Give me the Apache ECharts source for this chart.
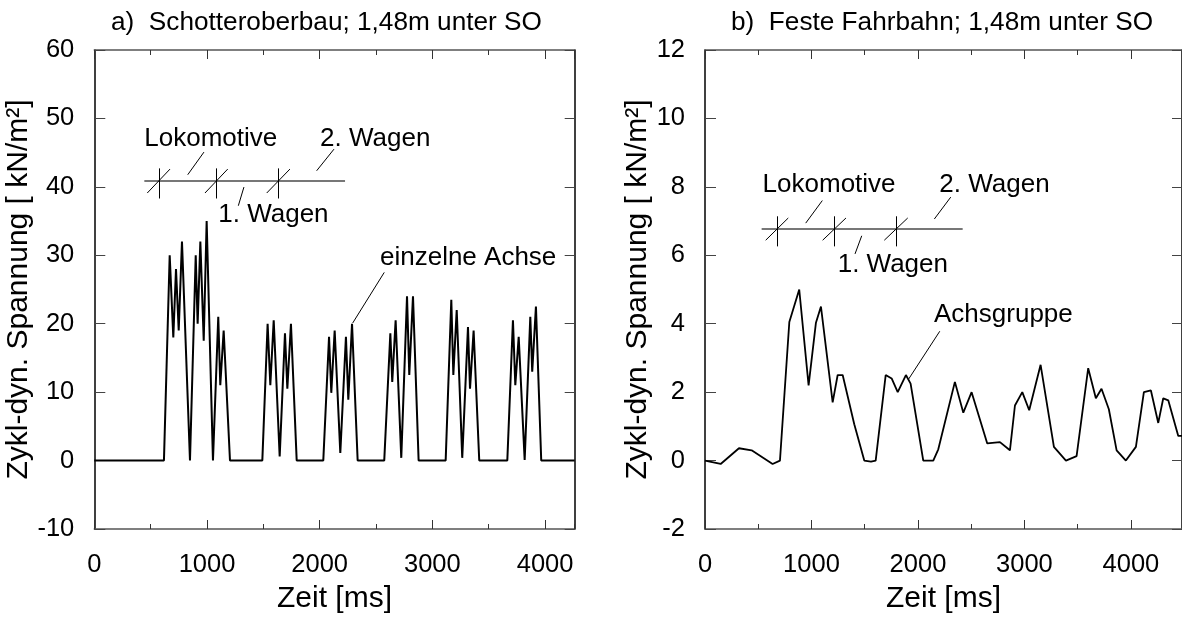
<!DOCTYPE html>
<html><head><meta charset="utf-8">
<script src="https://cdn.jsdelivr.net/npm/echarts@6/dist/echarts.min.js"></script>
<style>html,body{margin:0;padding:0;background:#fff}#c{width:1182px;height:619px}</style>
</head><body><div id="c"></div><script>
// ---- data ----
const titleA = 'a)  Schotteroberbau; 1,48m unter SO';
const titleB = 'b)  Feste Fahrbahn; 1,48m unter SO';
const xName = 'Zeit [ms]';
const yName = 'Zykl-dyn. Spannung [ kN/m²]';

const timesA = [0, 618, 669, 701, 725, 749, 778, 849, 900, 917, 941, 971, 997, 1053, 1100, 1118, 1148, 1204, 1491, 1538,
  1562, 1592, 1645, 1692, 1713, 1745, 1796, 2032, 2083, 2103, 2133, 2183, 2233, 2254, 2287, 2337, 2573, 2627, 2644, 2674,
  2724, 2775, 2795, 2828, 2878, 3118, 3168, 3186, 3216, 3265, 3316, 3334, 3366, 3416, 3665, 3715, 3736, 3766, 3819, 3869,
  3886, 3919, 3966, 4263];
const stressA = [0, 0, 30, 18, 28, 19, 32, 0, 30, 20, 32, 17.5, 35, 0, 21, 11, 19, 0, 0, 20,
  11, 20.5, 0.6, 18.6, 10.5, 20, 0, 0, 18.1, 9.9, 19, 1.1, 18.1, 8.9, 20, 0, 0, 18.6, 11.5, 20.5,
  0.4, 24, 12.5, 24, 0, 0, 23.5, 12.5, 22, 0.4, 19.5, 10.5, 19, 0, 0, 20.5, 11, 18.1, 0.1, 21,
  13, 22.5, 0, 0];

const timesB = [0, 147, 319, 438, 635, 704, 792, 885, 973, 1042, 1089, 1199, 1246, 1293, 1402, 1496, 1559, 1603, 1697, 1753,
  1810, 1887, 1931, 2050, 2144, 2191, 2347, 2426, 2504, 2651, 2770, 2864, 2911, 2980, 3045, 3152, 3277, 3390, 3490, 3599,
  3671, 3724, 3793, 3866, 3953, 4047, 4122, 4188, 4257, 4304, 4351, 4445, 4480];
const stressB = [0, -0.1, 0.36, 0.3, -0.1, 0, 4.05, 5.0, 2.2, 4.03, 4.5, 1.7, 2.5, 2.5, 1.06, 0, -0.03, 0, 2.5, 2.4,
  2.0, 2.5, 2.25, 0, 0, 0.33, 2.3, 1.4, 2.0, 0.5, 0.54, 0.3, 1.61, 2.0, 1.47, 2.8, 0.4, 0, 0.13, 2.7,
  1.82, 2.1, 1.5, 0.3, 0, 0.4, 2.0, 2.05, 1.1, 1.82, 1.76, 0.72, 0.72];

// axis ranges
const xMaxA = 4263, xMaxB = 4480;
const yMinA = -10, yMaxA = 60, yStepA = 10;
const yMinB = -2, yMaxB = 12, yStepB = 2;

// annotations (data units): train schematic, leaders, labels
const trainLineA = [[444, 40.93], [2225, 40.93]];
const trainTicksA = [[577, 38.3, 42.7], [1080, 38.3, 42.7], [1633, 38.3, 42.7]];
const trainSlashesA = [[[470, 39.1], [672, 42.6]], [[982, 39.1], [1184, 42.6]], [[1530, 39.1], [1736, 42.6]]];
const leadersA = [[[829, 41.77], [973, 45.08]], [[1328, 39.97], [1278, 37.24]], [[1973, 42.35], [2127, 45.51]], [[2293, 20.1], [2573, 27.5]]];
const labelsA = [[444, 47.0, 'Lokomotive'], [2003, 47.0, '2. Wagen'], [1100, 35.93, '1. Wagen'], [2535, 29.6, 'einzelne Achse']];

const trainLineB = [[532, 6.78], [2420, 6.78]];
const trainTicksB = [[683, 6.26, 7.14], [1215, 6.26, 7.14], [1794, 6.26, 7.14]];
const trainSlashesB = [[[570, 6.44], [782, 7.09]], [[1105, 6.44], [1324, 7.09]], [[1684, 6.44], [1904, 7.09]]];
const leadersB = [[[946, 6.94], [1102, 7.60]], [[1409, 6.04], [1472, 6.57]], [[2154, 7.06], [2308, 7.70]], [[1910, 2.37], [2205, 3.78]]];
const labelsB = [[541, 8.06, 'Lokomotive'], [2201, 8.06, '2. Wagen'], [1246, 5.73, '1. Wagen'], [2151, 4.27, 'Achsgruppe']];

// ---- chart ----
const FONT = '"Liberation Sans", Arial, sans-serif';
const FS = 25.5;
const NAME_FS = 30;
const TITLE_FS = 26.2;
const chart = echarts.init(document.getElementById('c'), null, {renderer: 'canvas'});
const plain = v => String(v);

function xAxesFor(gi, max) {
  const base = {gridIndex: gi, type: 'value', min: 0, max: max, splitLine: {show: false}};
  return [
    Object.assign({}, base, {position: 'bottom', interval: 1000,
      axisLine: {show: true, onZero: false, lineStyle: {color: '#555', width: 1.5}},
      axisTick: {show: true, inside: true, length: 9, lineStyle: {color: '#333', width: 1}},
      axisLabel: {show: true, color: '#000', fontSize: FS, fontFamily: FONT, margin: 23, showMaxLabel: false, formatter: plain},
      name: xName, nameLocation: 'middle', nameGap: 55,
      nameTextStyle: {color: '#000', fontSize: NAME_FS, fontFamily: FONT}}),
    Object.assign({}, base, {position: 'bottom', interval: 500,
      axisLine: {show: false, onZero: false},
      axisTick: {show: true, inside: true, length: 5, lineStyle: {color: '#333', width: 1}},
      axisLabel: {show: false}}),
    Object.assign({}, base, {position: 'top', interval: 1000,
      axisLine: {show: true, onZero: false, lineStyle: {color: '#555', width: 1.5}},
      axisTick: {show: true, inside: true, length: 9, lineStyle: {color: '#333', width: 1}},
      axisLabel: {show: false}}),
    Object.assign({}, base, {position: 'top', interval: 500,
      axisLine: {show: false, onZero: false},
      axisTick: {show: true, inside: true, length: 5, lineStyle: {color: '#333', width: 1}},
      axisLabel: {show: false}})
  ];
}
function yAxesFor(gi, min, max, step, gap) {
  const base = {gridIndex: gi, type: 'value', min: min, max: max, interval: step, splitLine: {show: false}};
  return [
    Object.assign({}, base, {position: 'left',
      axisLine: {show: true, onZero: false, lineStyle: {color: '#000', width: 1.5}},
      axisTick: {show: true, inside: true, length: 11, lineStyle: {color: '#444', width: 1}},
      axisLabel: {show: true, color: '#000', fontSize: FS, fontFamily: FONT, margin: 20, formatter: plain},
      name: yName, nameLocation: 'middle', nameGap: gap,
      nameTextStyle: {color: '#000', fontSize: NAME_FS, fontFamily: FONT}}),
    Object.assign({}, base, {position: 'right',
      axisLine: {show: true, onZero: false, lineStyle: {color: '#000', width: 1.5}},
      axisTick: {show: true, inside: true, length: 10, lineStyle: {color: '#444', width: 1}},
      axisLabel: {show: false}})
  ];
}
const zip = (a, b) => a.map((t, i) => [t, b[i]]);
function annoSeries(xi, yi, line, ticks, slashes, leaders, labels) {
  const thin = [];
  ticks.forEach(t => thin.push({coords: [[t[0], t[1]], [t[0], t[2]]]}));
  slashes.forEach(s => thin.push({coords: s}));
  leaders.forEach(s => thin.push({coords: s}));
  return [
    {type: 'lines', coordinateSystem: 'cartesian2d', xAxisIndex: xi, yAxisIndex: yi, silent: true,
      data: [{coords: line}], lineStyle: {color: '#777', width: 2, opacity: 1, curveness: 0}, z: 3},
    {type: 'lines', coordinateSystem: 'cartesian2d', xAxisIndex: xi, yAxisIndex: yi, silent: true,
      data: thin, lineStyle: {color: '#000', width: 1, opacity: 1, curveness: 0}, z: 4},
    {type: 'custom', xAxisIndex: xi, yAxisIndex: yi, silent: true,
      data: labels.map(l => [l[0], l[1]]),
      renderItem: function (params, api) {
        const p = api.coord([api.value(0), api.value(1)]);
        return {type: 'text', x: p[0], y: p[1],
          style: {text: labels[params.dataIndex][2], fill: '#000', fontSize: 26, fontFamily: FONT,
            align: 'left', verticalAlign: 'middle'}};
      }, z: 5}
  ];
}

const option = {
  backgroundColor: '#fff',
  animation: false,
  textStyle: {fontFamily: FONT},
  title: [
    {text: titleA, left: 111, top: 10, padding: 0, textStyle: {fontSize: TITLE_FS, fontWeight: 'normal', color: '#000', fontFamily: FONT}},
    {text: titleB, left: 731, top: 10, padding: 0, textStyle: {fontSize: TITLE_FS, fontWeight: 'normal', color: '#000', fontFamily: FONT}}
  ],
  grid: [
    {left: 94.3, top: 50, width: 480.4, height: 479.3},
    {left: 705, top: 50, width: 477, height: 479.3}
  ],
  xAxis: xAxesFor(0, xMaxA).concat(xAxesFor(1, xMaxB)),
  yAxis: yAxesFor(0, yMinA, yMaxA, yStepA, 57).concat(yAxesFor(1, yMinB, yMaxB, yStepB, 50)),
  series: [
    {type: 'line', xAxisIndex: 0, yAxisIndex: 0, data: zip(timesA, stressA), symbol: 'none',
      lineStyle: {color: '#000', width: 2}, z: 6},
    {type: 'line', xAxisIndex: 4, yAxisIndex: 2, data: zip(timesB, stressB), symbol: 'none',
      lineStyle: {color: '#000', width: 1.8}, z: 6}
  ].concat(annoSeries(0, 0, trainLineA, trainTicksA, trainSlashesA, leadersA, labelsA))
   .concat(annoSeries(4, 2, trainLineB, trainTicksB, trainSlashesB, leadersB, labelsB))
};
chart.setOption(option);
</script></body></html>
